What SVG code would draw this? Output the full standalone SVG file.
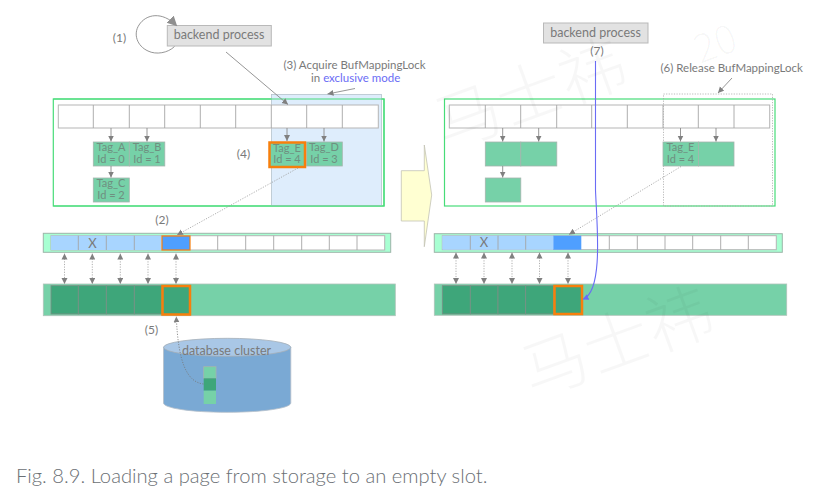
<svg xmlns="http://www.w3.org/2000/svg" width="823" height="499" viewBox="0 0 823 499">
<style>
text{font-family:"Lato","Open Sans","Noto Sans CJK SC",sans-serif;fill:#7a7a7a;font-size:11.5px}
.m{text-anchor:middle}
.tg{font-size:11px;text-anchor:middle;fill:#6f8f80}
.wm{font-family:"Noto Sans CJK SC",serif;font-size:66px;fill:#000;fill-opacity:.03;font-weight:300}
.hash{fill:#fff;stroke:#47dc78;stroke-width:1.2}
.row{fill:#fff;stroke:#b5b5b5;stroke-width:1}
.sep{stroke:#a5a5a5;stroke-width:.9;fill:none}
.tag{fill:#76d1a8;stroke:#a5b5ad;stroke-width:.8}
.box{fill:#e2e2e2;stroke:#b9b9b9;stroke-width:1}
.desc{fill:#a8ffd2;stroke:#9db5a9;stroke-width:1}
.lb{fill:#a8d5ff}
.pool{fill:#76d1a8;stroke:#b0c4ba;stroke-width:.8}
.dk{fill:#3ea67a;stroke:#7d8f86;stroke-width:.8}
.org{fill:#3ea67a;stroke:#f77f0c;stroke-width:2.5}
.ln{fill:none;stroke:#8a8a8a;stroke-width:.9}
.ar{marker-end:url(#a)}
.dt{fill:none;stroke:#9a9a9a;stroke-width:.8;stroke-dasharray:1.2 1.4}
.da{marker-start:url(#as);marker-end:url(#a)}
</style>
<defs>
<marker id="a" markerWidth="8" markerHeight="8" refX="6" refY="3" orient="auto" markerUnits="userSpaceOnUse"><path d="M0 0L6 3L0 6z" fill="#808080"/></marker>
<marker id="as" markerWidth="8" markerHeight="8" refX="0" refY="3" orient="auto" markerUnits="userSpaceOnUse"><path d="M6 0L0 3L6 6z" fill="#808080"/></marker>
<marker id="big" markerWidth="14" markerHeight="14" refX="9" refY="5" orient="auto" markerUnits="userSpaceOnUse"><path d="M0 0L10 5L0 10z" fill="#8f8f8f"/></marker>
<marker id="bl" markerWidth="8" markerHeight="8" refX="5" refY="3" orient="auto" markerUnits="userSpaceOnUse"><path d="M0 0L6 3L0 6z" fill="#6a6cf5"/></marker>
</defs>
<rect width="823" height="499" fill="#fff"/>

<g id="left-hash">
<rect class="hash" x="53.3" y="99" width="330.7" height="107"/>
<rect x="271.5" y="94.5" width="110" height="111" fill="#deedfc" stroke="#b5c2cc" stroke-width=".8"/>
<path d="M53.3 206H384V99H53.3" fill="none" stroke="#47dc78" stroke-width="1.2"/>
<rect class="row" x="58.3" y="105" width="320" height="23"/>
<path class="sep" d="M93.3 105V128M129.3 105V128M164.7 105V128M200.3 105V128M235.7 105V128M271.3 105V128M306.7 105V128M342.3 105V128"/>
</g>
<g id="tag-a"><rect class="tag" x="93.3" y="142" width="36" height="24"/><text class="tg" x="111" y="151">Tag_A</text><text class="tg" x="111" y="162.5">Id = 0</text></g>
<g id="tag-b"><rect class="tag" x="129.3" y="142" width="35.5" height="24"/><text class="tg" x="147" y="151">Tag_B</text><text class="tg" x="147" y="162.5">Id = 1</text></g>
<g id="tag-c"><rect class="tag" x="93.3" y="178" width="36" height="24"/><text class="tg" x="111" y="187">Tag_C</text><text class="tg" x="111" y="198.5">Id = 2</text></g>
<g id="tag-d"><rect class="tag" x="306.7" y="142" width="35.6" height="24"/><text class="tg" x="324" y="151">Tag_D</text><text class="tg" x="324" y="162.5">Id = 3</text></g>
<g id="tag-e"><rect class="tag" x="269.5" y="142.5" width="35.5" height="24.5" style="stroke:#f77f0c;stroke-width:2.5"/><text class="tg" x="287" y="151.5">Tag_E</text><text class="tg" x="287" y="163">Id = 4</text></g>

<g id="left-desc">
<rect class="desc" x="43.3" y="233.3" width="347.4" height="19"/>
<rect class="row" x="51" y="235.7" width="333.7" height="14.3"/>
<rect class="lb" x="51" y="235.7" width="110.7" height="14.3"/>
<path class="sep" d="M78.3 235.7V250M106.3 235.7V250M134.3 235.7V250M217.7 235.7V250M245.7 235.7V250M273.7 235.7V250M301.7 235.7V250M329.3 235.7V250M357 235.7V250"/>
<rect x="162" y="236" width="28" height="14" fill="#4f9fff" stroke="#f77f0c" stroke-width="1.2"/>
<text class="m" x="92.5" y="247.5" style="font-size:13px">X</text>
</g>
<g id="left-pool">
<rect class="pool" x="43.3" y="284" width="352" height="31.7"/>
<rect class="dk" x="51" y="285.7" width="27.3" height="28.3"/><rect class="dk" x="78.3" y="285.7" width="28" height="28.3"/><rect class="dk" x="106.3" y="285.7" width="28" height="28.3"/><rect class="dk" x="134.3" y="285.7" width="27.7" height="28.3"/>
<rect class="org" x="162.5" y="286" width="27.5" height="28.5"/>
</g>
<g id="database-cluster">
<path d="M163.5 347V403C163.5 408 190 412.3 227 412.3S290.8 408 290.8 403V347z" fill="#7aa9d4" stroke="#b5bfc9" stroke-width=".8"/>
<ellipse cx="227.2" cy="347.3" rx="63.6" ry="9" fill="#a9c7e6" stroke="#a5aeb8" stroke-width=".8"/>
<rect class="tag" x="203.7" y="366.7" width="12.3" height="11.6"/><rect x="203.7" y="378.3" width="12.3" height="12.4" fill="#3ea67a"/><rect x="203.7" y="390.7" width="12.3" height="13.3" fill="#76d1a8"/>
<text class="m" x="226.5" y="355" style="font-size:12.5px">database cluster</text>
</g>
<g id="backend-left"><rect class="box" x="167.3" y="25.5" width="104" height="20.5"/><text class="m" x="219" y="39" style="font-size:12.5px">backend process</text></g>

<g id="yellow-arrow"><path d="M401.3 170.7H424.3V145L431.7 195L424.3 246.7V221H401.3z" fill="#ffffd2" stroke="#c3c3b5" stroke-width=".8"/></g>

<g id="right-hash">
<rect class="hash" x="444.5" y="99" width="330.5" height="107"/>
<rect class="row" x="449.3" y="105" width="320.4" height="23"/>
<path class="sep" d="M485.3 105V128M520.7 105V128M556.7 105V128M591.7 105V128M627.3 105V128M663 105V128M698.3 105V128M734 105V128"/>
<rect x="663.5" y="94" width="109" height="112" fill="none" stroke="#a8a8a8" stroke-width=".8" stroke-dasharray="1.2 1.4"/>
</g>
<g id="r-tag-1"><rect class="tag" x="485.3" y="142" width="35.5" height="24"/></g>
<g id="r-tag-2"><rect class="tag" x="520.8" y="142" width="36" height="24"/></g>
<g id="r-tag-3"><rect class="tag" x="485.3" y="178" width="35.5" height="24"/></g>
<g id="r-tag-e"><rect class="tag" x="663" y="142" width="35.5" height="24"/><text class="tg" x="680.5" y="151">Tag_E</text><text class="tg" x="680.5" y="162.5">Id = 4</text></g>
<g id="r-tag-5"><rect class="tag" x="698.5" y="142" width="35.5" height="24"/></g>

<g id="right-desc">
<rect class="desc" x="434.3" y="233.7" width="348" height="18.6"/>
<rect class="row" x="442.3" y="235.7" width="334" height="14"/>
<rect class="lb" x="442.3" y="235.7" width="111" height="14"/>
<path class="sep" d="M470.3 235.7V249.7M498 235.7V249.7M525.7 235.7V249.7M609.3 235.7V249.7M637.3 235.7V249.7M665 235.7V249.7M692.7 235.7V249.7M720.7 235.7V249.7M748.3 235.7V249.7"/>
<rect x="553.3" y="235.7" width="28" height="14" fill="#4f9fff"/>
<text class="m" x="484" y="247" style="font-size:13px">X</text>
</g>
<g id="right-pool">
<rect class="pool" x="434.3" y="284" width="352.4" height="31.3"/>
<rect class="dk" x="442.3" y="285.7" width="28" height="28.3"/><rect class="dk" x="470.3" y="285.7" width="27.7" height="28.3"/><rect class="dk" x="498" y="285.7" width="27.7" height="28.3"/><rect class="dk" x="525.7" y="285.7" width="28" height="28.3"/>
<rect class="org" x="554.5" y="286" width="27.5" height="28"/>
</g>
<g id="backend-right"><rect class="box" x="543.5" y="23" width="104.5" height="20"/><text class="m" x="595.5" y="36.5" style="font-size:12.5px">backend process</text></g>

<g id="connectors">
<path class="ln" d="M174.5 46.5C168 53 156 55 148 51C137 46 133 34 139 25C146 14 162 11 176.5 25.5" style="marker-end:url(#big)"/>
<path class="ar ln" d="M226 52L288 104.5"/>
<path class="ar ln" d="M355 88.5L327.5 94"/>
<path class="ar ln" d="M732 78L718 93"/>
<path class="ar ln" d="M111 128V141.5"/><path class="ar ln" d="M147 128V141.5"/><path class="ar ln" d="M111 166V177.5"/><path class="ar ln" d="M287 128V141"/><path class="ar ln" d="M324 128V141.5"/>
<path class="ar ln" d="M502.7 128V141.5"/><path class="ar ln" d="M538.7 128V141.5"/><path class="ar ln" d="M502.7 166V177.5"/><path class="ar ln" d="M680.5 128V141.5"/><path class="ar ln" d="M716 128V141.5"/>
<path class="dt ar" d="M298 168L177 235"/>
<path class="dt ar" d="M681 166.5L569 234.5"/>
<path class="dt da" d="M64.5 253.5V284"/><path class="dt da" d="M92.3 253.5V284"/><path class="dt da" d="M120.3 253.5V284"/><path class="dt da" d="M148 253.5V284"/><path class="dt da" d="M176 253.5V284"/>
<path class="dt da" d="M456 252.5V284"/><path class="dt da" d="M484 252.5V284"/><path class="dt da" d="M512 252.5V284"/><path class="dt da" d="M539.5 252.5V284"/><path class="dt da" d="M568 252.5V284"/>
<path class="dt ar" d="M203.5 384C186 382 178 360 176.3 316.5" style="stroke:#777"/>
<path d="M595.5 61V190C596.5 220 604 290 583.5 299" fill="none" stroke="#6a6cf5" stroke-width="1.1" marker-end="url(#bl)"/>
</g>

<g id="labels">
<text class="m" x="119.5" y="42" style="font-size:12px">(1)</text>
<text x="283.5" y="69">(3) Acquire BufMappingLock</text>
<text x="311" y="82">in <tspan fill="#6a6cf5">exclusive mode</tspan></text>
<text class="m" x="243.5" y="158" style="font-size:12px">(4)</text>
<text class="m" x="162" y="224" style="font-size:12px">(2)</text>
<text class="m" x="151.5" y="334" style="font-size:12px">(5)</text>
<text class="m" x="597" y="55" style="font-size:12px">(7)</text>
<text x="660.5" y="72">(6) Release BufMappingLock</text>
<text x="16" y="483" style="font-size:20.2px;fill:#6b7075;font-weight:300">Fig. 8.9. Loading a page from storage to an empty slot.</text>
</g>

<g id="watermark">
<text class="wm" transform="translate(445 150) rotate(-20)">马士祎</text>
<text class="wm" transform="translate(700 64) rotate(-20)" style="font-size:40px">20</text>
<text class="wm" transform="translate(532 398) rotate(-20)">马士祎</text>
</g>
</svg>
